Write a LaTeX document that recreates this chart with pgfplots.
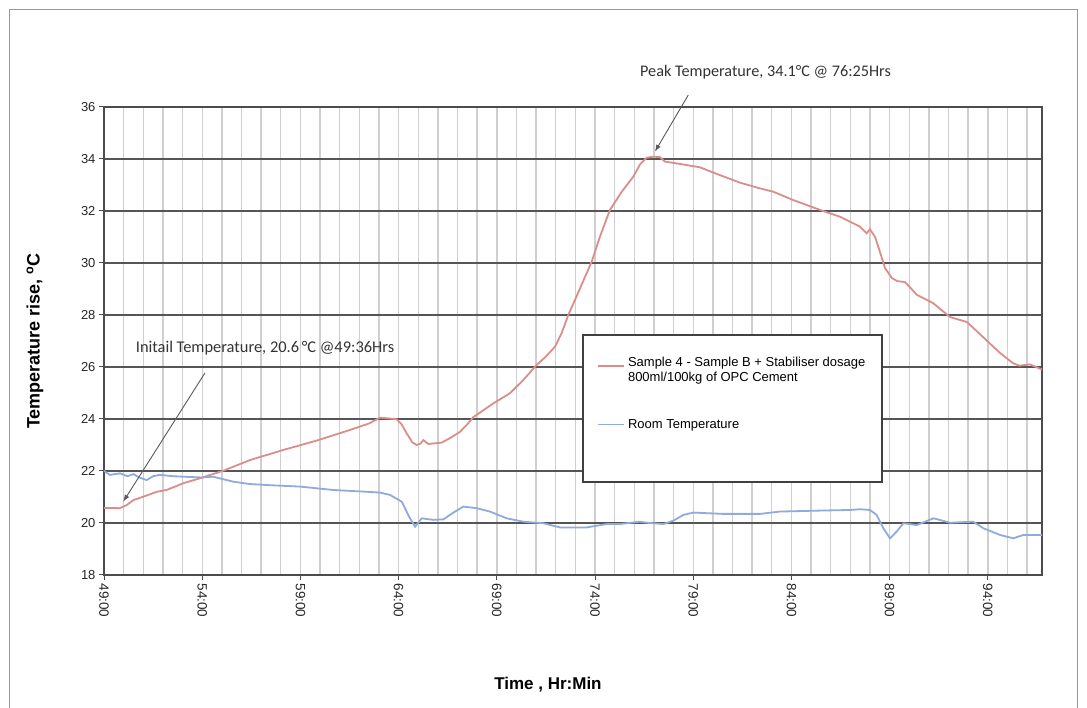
\documentclass[border=0pt]{standalone}
\usepackage{fontspec}
\setmainfont{Liberation Sans}
\newfontfamily\calib{Carlito}
\usepackage{pgfplots}
\pgfplotsset{compat=1.18}
\usetikzlibrary{arrows.meta}
\definecolor{redline}{HTML}{DA8E8C}
\definecolor{blueline}{HTML}{8FAADC}
\definecolor{majgrid}{HTML}{555555}
\definecolor{mingrid}{HTML}{CFCFCF}

\pgfplotstableread{
h T
49.00 20.58
49.80 20.57
50.16 20.69
50.49 20.88
51.00 21.01
51.68 21.20
52.19 21.27
53.04 21.53
53.89 21.72
55.07 22.01
56.43 22.42
58.13 22.81
59.83 23.17
61.53 23.58
62.50 23.83
63.05 24.05
63.40 24.03
63.90 23.99
64.15 23.80
64.41 23.45
64.70 23.10
64.92 23.00
65.10 23.05
65.26 23.19
65.51 23.04
66.19 23.09
66.70 23.30
67.13 23.51
67.50 23.80
67.80 24.07
68.82 24.60
69.67 24.99
70.35 25.50
71.03 26.08
71.50 26.40
71.96 26.78
72.30 27.30
72.64 28.00
73.24 29.03
73.83 30.05
74.25 31.01
74.76 32.04
75.36 32.74
75.95 33.32
76.30 33.80
76.63 34.05
76.97 34.09
77.31 34.07
77.56 33.90
78.33 33.81
79.34 33.68
80.36 33.38
81.38 33.09
82.40 32.87
83.08 32.74
84.10 32.42
85.46 32.04
86.47 31.78
87.49 31.40
87.83 31.14
88.00 31.30
88.26 31.00
88.51 30.42
88.77 29.80
89.12 29.42
89.40 29.30
89.78 29.27
90.40 28.77
91.21 28.46
92.08 27.92
92.94 27.73
93.76 27.15
94.62 26.54
95.28 26.15
95.60 26.05
96.15 26.10
96.76 25.90
}\sampledata

\pgfplotstableread{
h T
49.00 22.00
49.30 21.85
49.81 21.91
50.20 21.80
50.49 21.88
50.80 21.75
51.17 21.65
51.50 21.80
51.85 21.85
52.50 21.80
53.04 21.78
54.00 21.75
54.56 21.78
55.58 21.59
56.40 21.50
57.28 21.46
58.98 21.40
60.67 21.27
62.38 21.20
63.05 21.17
63.56 21.08
64.16 20.82
64.58 20.18
64.84 19.86
65.18 20.18
65.77 20.12
66.28 20.14
66.79 20.40
67.29 20.63
67.98 20.57
68.65 20.44
69.50 20.18
70.35 20.05
71.37 19.99
72.22 19.83
73.58 19.83
74.59 19.96
75.27 19.96
76.29 20.05
76.63 20.01
77.48 19.96
77.99 20.09
78.50 20.31
79.00 20.40
80.53 20.35
82.40 20.35
83.42 20.44
85.62 20.48
86.98 20.50
87.49 20.53
88.00 20.50
88.34 20.31
88.68 19.80
89.02 19.41
89.36 19.67
89.70 19.99
90.38 19.92
91.23 20.18
91.40 20.15
92.08 20.01
93.26 20.05
93.77 19.80
94.62 19.54
95.30 19.41
95.81 19.54
96.76 19.54
}\roomdata

\begin{document}
\begin{tikzpicture}[x=1pt,y=1pt]
\useasboundingbox (0,0) rectangle (1087,708);
\draw[color=black!40, line width=1pt] (9.5,0) -- (9.5,698.5) -- (1077.5,698.5) -- (1077.5,0);
\begin{axis}[
  at={(104pt,133pt)}, anchor=south west,
  scale only axis, width=938pt, height=468pt,
  xmin=49, xmax=96.76, ymin=18, ymax=36,
  clip=false,
  axis line style={line width=1.6pt, color=black!70},
  tick pos=left, tick align=outside,
  major tick length=5pt, minor tick length=0pt,
  tick style={line width=1pt, color=black!70},
  xtick={49,54,59,64,69,74,79,84,89,94},
  xticklabels={49:00,54:00,59:00,64:00,69:00,74:00,79:00,84:00,89:00,94:00},
  minor xtick={49,50,...,96},
  ytick={18,20,...,36},
  xmajorgrids=false, xminorgrids=true, ymajorgrids=true,
  x grid style={color=mingrid, line width=1.4pt},
  y grid style={color=majgrid, line width=1.6pt},
  /pgf/number format/assume math mode=true,
  xticklabel style={rotate=-90, anchor=west, font=\fontsize{13.5}{15}\selectfont, text=black!85},
  yticklabel style={font=\fontsize{13}{15}\selectfont, text=black!85},
  xlabel={Time , Hr:Min},
  ylabel={Temperature rise, \textsuperscript{o}C},
  xlabel style={at={(axis description cs:0.4733,-0.235)}, anchor=center, font=\bfseries\fontsize{17}{19}\selectfont},
  ylabel style={at={(axis description cs:-0.0736,0.5)}, anchor=center, font=\bfseries\fontsize{18}{20}\selectfont},
  legend style={at={(axis description cs:0.5256,0.4680)}, anchor=north west,
     draw=none, fill=none, inner sep=0pt, row sep=42pt, column sep=2pt,
     nodes={inner sep=1pt}, font=\fontsize{13}{15}\selectfont},
  legend cell align=left,
  legend image code/.code={\draw[#1] (0pt,0pt) -- (26pt,0pt);},
]
\addplot[redline, line width=1.8pt] table[x=h,y=T] {\sampledata};
\addplot[blueline, line width=1.8pt] table[x=h,y=T] {\roomdata};
\draw[fill=white, draw=black!75, line width=1.5pt] (axis description cs:0.5107,0.5128) rectangle (axis description cs:0.8294,0.1987);
\legend{\parbox[c]{250pt}{Sample 4 - Sample B + Stabiliser dosage\\800ml/100kg of OPC Cement},Room Temperature}
\draw[-{Latex[length=7pt,width=5pt]}, black!65, line width=0.9pt] (axis cs:54.14,25.77) -- (axis cs:49.98,20.82);
\draw[-{Latex[length=7pt,width=5pt]}, black!65, line width=0.9pt] (axis cs:78.75,36.46) -- (axis cs:77.05,34.28);
\node[font=\calib\fontsize{16.4}{18}\selectfont, text=black!80] at (axis cs:57.2,26.73) {Initail Temperature, 20.6\,°C @49:36Hrs};
\node[font=\calib\fontsize{16.2}{18}\selectfont, text=black!80] at (axis cs:82.68,37.35) {Peak Temperature, 34.1°C @ 76:25Hrs};
\end{axis}
\end{tikzpicture}
\end{document}
